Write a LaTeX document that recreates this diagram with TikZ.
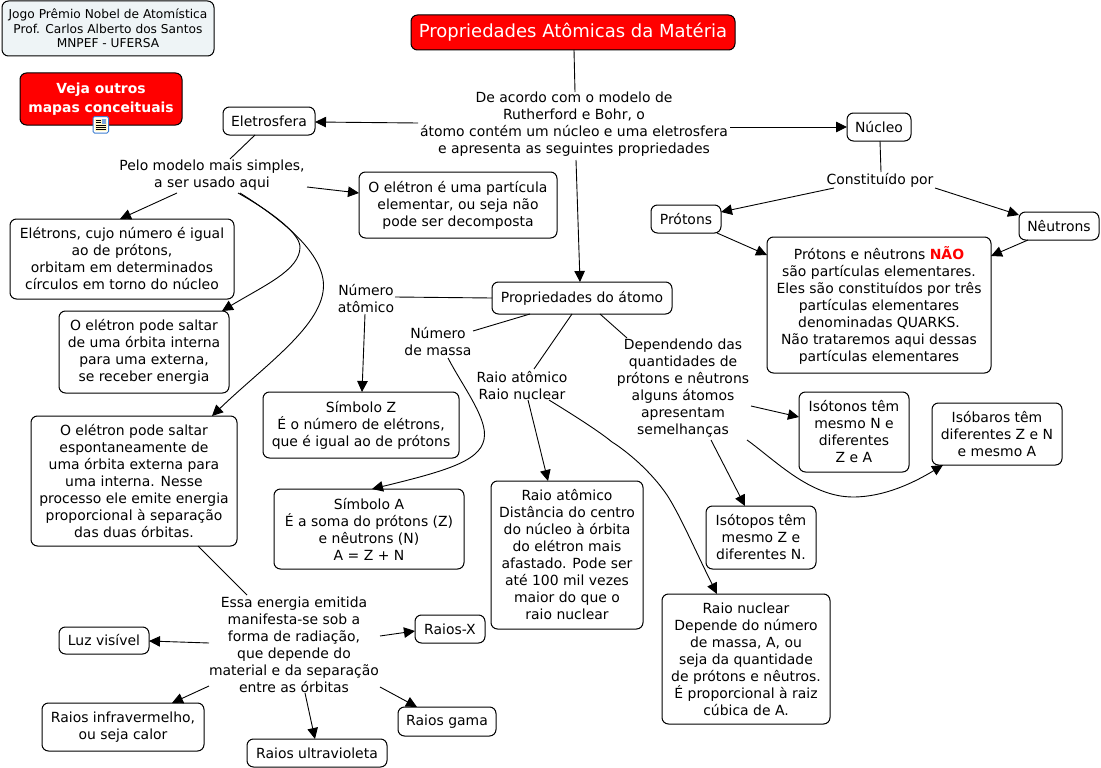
\documentclass[tikz,border=0pt]{standalone}
\usepackage{fontspec}
\setmainfont{DejaVu Sans}
\usetikzlibrary{arrows.meta}
\definecolor{infobg}{HTML}{EEF4F6}
\definecolor{iconblue}{HTML}{3F7FD0}
\definecolor{iconpaper}{HTML}{FFF6C8}
\newcommand\plain[6]{\draw[conn] ([shift={(#2,#3)}]#1.center) -- ([shift={(#5,#6)}]#4.center);}
\newcommand\arrowed[6]{\draw[conn,-{Triangle[length=11pt,width=10.5pt]}] ([shift={(#2,#3)}]#1.center) -- ([shift={(#5,#6)}]#4.center);}
\tikzset{
  conn/.style={line width=0.9pt,black},
  box/.style={draw=black,line width=1pt,rounded corners=6.5pt,fill=white,inner sep=0pt,align=center,font=\fontsize{13.95}{17}\selectfont},
  lab/.style={inner sep=0pt,align=center,font=\fontsize{13.95}{17}\selectfont},
  redbox/.style={box,fill=red,text=white},
}
\begin{document}
\begin{tikzpicture}[x=1pt,y=-1pt]
\useasboundingbox (0,0) rectangle (1101,768);
\fill[white] (0,0) rectangle (1101,768);
% concepts
\node[redbox,minimum width=324pt,minimum height=35pt,font=\fontsize{18}{22}\selectfont] (title) at (573,32.5) {Propriedades Atômicas da Matéria};
\node[box,fill=infobg,minimum width=212pt,minimum height=55pt,font=\fontsize{12.2}{14.5}\selectfont] (info) at (108,28.5) {Jogo Prêmio Nobel de Atomística\\Prof. Carlos Alberto dos Santos\\MNPEF - UFERSA};
\node[redbox,minimum width=162pt,minimum height=52pt,font=\fontsize{13.9}{18}\selectfont\bfseries] (veja) at (101,99) {\raisebox{1.5pt}{Veja outros}\\\raisebox{1pt}{mapas conceituais}};
\node[box,minimum width=92pt,minimum height=28pt] (eletro) at (269,121) {Eletrosfera};
\node[box,minimum width=64pt,minimum height=28pt] (nucleo) at (879,127) {Núcleo};
\node[box,minimum width=70pt,minimum height=28pt] (protons) at (686,219) {Prótons};
\node[box,minimum width=80pt,minimum height=28pt] (neutrons) at (1059,226) {Nêutrons};
\node[box,minimum width=224pt,minimum height=136pt] (pn) at (879,305) {Prótons e nêutrons \textcolor{red}{\textbf{NÃO}}\\são partículas elementares.\\Eles são constituídos por três\\partículas elementares\\denominadas QUARKS.\\Não trataremos aqui dessas\\partículas elementares};
\node[box,minimum width=180pt,minimum height=32pt] (prop) at (582,298) {Propriedades do átomo};
\node[box,minimum width=198pt,minimum height=66pt] (part) at (458,205) {O elétron é uma partícula\\elementar, ou seja não\\pode ser decomposta};
\node[box,minimum width=224pt,minimum height=80pt] (eletrons) at (122,259) {Elétrons, cujo número é igual\\ao de prótons,\\orbitam em determinados\\círculos em torno do núcleo};
\node[box,minimum width=170pt,minimum height=82pt] (saltarA) at (144,352) {O elétron pode saltar\\de uma órbita interna\\para uma externa,\\se receber energia};
\node[box,minimum width=206pt,minimum height=130pt] (saltarB) at (134,481) {O elétron pode saltar\\espontaneamente de\\uma órbita externa para\\uma interna. Nesse\\processo ele emite energia\\proporcional à separação\\das duas órbitas.};
\node[box,minimum width=196pt,minimum height=66pt] (simz) at (361,425) {Símbolo Z\\É o número de elétrons,\\que é igual ao de prótons};
\node[box,minimum width=190pt,minimum height=80pt] (sima) at (369,529) {Símbolo A\\É a soma do prótons (Z)\\e nêutrons (N)\\A = Z + N};
\node[box,minimum width=152pt,minimum height=148pt] (raioat) at (567,555) {Raio atômico\\Distância do centro\\do núcleo à órbita\\do elétron mais\\afastado. Pode ser\\até 100 mil vezes\\maior do que o\\raio nuclear};
\node[box,minimum width=110pt,minimum height=80pt] (isotonos) at (854,432) {Isótonos têm\\mesmo N e\\diferentes\\Z e A};
\node[box,minimum width=130pt,minimum height=62pt] (isobaros) at (997,434) {Isóbaros têm\\diferentes Z e N\\e mesmo A};
\node[box,minimum width=110pt,minimum height=63pt] (isotopos) at (761,537.5) {Isótopos têm\\mesmo Z e\\diferentes N.};
\node[box,minimum width=168pt,minimum height=130pt] (raionuc) at (746,659) {Raio nuclear\\Depende do número\\de massa, A, ou\\seja da quantidade\\de prótons e nêutros.\\É proporcional à raiz\\cúbica de A.};
\node[box,minimum width=90pt,minimum height=27pt] (luz) at (104,640.5) {Luz visível};
\node[box,minimum width=70pt,minimum height=28pt] (raiosx) at (450,629) {Raios-X};
\node[box,minimum width=162pt,minimum height=48pt] (infra) at (123,727) {Raios infravermelho,\\ou seja calor};
\node[box,minimum width=98pt,minimum height=29pt] (gama) at (447,721.5) {Raios gama};
\node[box,minimum width=140pt,minimum height=28pt] (ultra) at (317,753) {Raios ultravioleta};
% linking phrases
\node[lab] (de) at (574,124.5) {De acordo com o modelo de\\Rutherford e Bohr, o\\átomo contém um núcleo e uma eletrosfera\\e apresenta as seguintes propriedades};
\node[lab] (constit) at (880,180) {Constituído por};
\node[lab] (pelo) at (212,175.5) {Pelo modelo mais simples,\\a ser usado aqui};
\node[lab] (numat) at (366,298.5) {Número\\atômico};
\node[lab] (nummas) at (438,341.5) {Número\\de massa};
\node[lab] (raio) at (522,385.5) {Raio atômico\\Raio nuclear};
\node[lab] (dep) at (683,388) {Dependendo das\\quantidades de\\prótons e nêutrons\\alguns átomos\\apresentam\\semelhanças};
\node[lab] (essa) at (294,644.5) {Essa energia emitida\\manifesta-se sob a\\forma de radiação,\\que depende do\\material e da separação\\entre as órbitas};
% resource icon
\draw[iconblue,line width=1pt,fill=white,rounded corners=1.5pt] (93,116.5) rectangle (108.5,133);
\fill[iconpaper] (95,118.5) rectangle (106.5,131);
\draw[black,line width=0.7pt] (96,120) -- (100.5,120) (96,122.5) -- (100.5,122.5) (96,125) -- (105.5,125) (96,127) -- (105.5,127) (96,129) -- (105.5,129);
\fill[iconblue!70] (101.5,119) rectangle (105.5,123.5);
% connectors
\plain{title}{1}{17.5}{de}{1}{-32.5}
\arrowed{de}{-156}{-1.5}{eletro}{46}{1}
\arrowed{de}{156}{2.5}{nucleo}{-32}{0}
\arrowed{de}{2}{35.5}{prop}{-2}{-16}
\plain{nucleo}{1}{14}{constit}{1}{-8}
\arrowed{constit}{-46}{8}{protons}{35}{-7}
\arrowed{constit}{55}{8}{neutrons}{-40}{-11}
\arrowed{protons}{31}{14}{pn}{-112}{-50}
\arrowed{neutrons}{-31}{14}{pn}{112}{-49}
\plain{eletro}{-14}{14}{pelo}{18}{-16.5}
\arrowed{pelo}{95}{11.5}{part}{-99}{-12}
\arrowed{pelo}{-35}{17.5}{eletrons}{-2}{-40}
\plain{prop}{-90}{0}{numat}{29}{-1.5}
\arrowed{numat}{-1}{15.5}{simz}{1}{-33}
\plain{prop}{-52}{16}{nummas}{35}{-10.5}
\plain{prop}{-10}{16}{raio}{12}{-16.5}
\arrowed{raio}{6}{14.5}{raioat}{-19}{-74}
\plain{prop}{18}{16}{dep}{-56}{-50}
\arrowed{dep}{68}{18}{isotonos}{-55}{-15}
\arrowed{dep}{28}{52}{isotopos}{-16}{-31.5}
\plain{saltarB}{64}{65}{essa}{-47}{-49.5}
\arrowed{essa}{-85}{-1.5}{luz}{45}{0.5}
\arrowed{essa}{86}{-8.5}{raiosx}{-35}{2}
\arrowed{essa}{-85}{41.5}{infra}{49}{-24}
\arrowed{essa}{11}{48.5}{ultra}{-2}{-14}
\arrowed{essa}{86}{42.5}{gama}{-30}{-14.5}
% curved connectors
\draw[conn,-{Triangle[length=11pt,width=10.5pt]}] ([shift={(26,17.5)}]pelo.center) .. controls (265,208) and (300,232) .. (300,247) .. controls (300,270) and (265,285) .. ([shift={(78,-41)}]saltarA.center);
\draw[conn,-{Triangle[length=11pt,width=10.5pt]}] ([shift={(28,17.5)}]pelo.center) .. controls (275,215) and (323,250) .. (323.5,285) .. controls (324,325) and (265,365) .. ([shift={(78,-65)}]saltarB.center);
\draw[conn,-{Triangle[length=11pt,width=10.5pt]}] ([shift={(10,16.5)}]nummas.center) .. controls (462,385) and (485,415) .. (484.5,435) .. controls (484,460) and (450,470) .. ([shift={(3,-40)}]sima.center);
\draw[conn,-{Triangle[length=11pt,width=10.5pt]}] ([shift={(27,14.5)}]raio.center) .. controls (575,416) and (600,432) .. (612,442) .. controls (625,450) and (650,470) .. (667,495) .. controls (680,515) and (695,550) .. ([shift={(-29,-65)}]raionuc.center);
\draw[conn,-{Triangle[length=11pt,width=10.5pt]}] ([shift={(64,52)}]dep.center) .. controls (775,460) and (810,497) .. (853,497) .. controls (885,497) and (915,482) .. ([shift={(-54,31)}]isobaros.center);
\end{tikzpicture}
\end{document}
